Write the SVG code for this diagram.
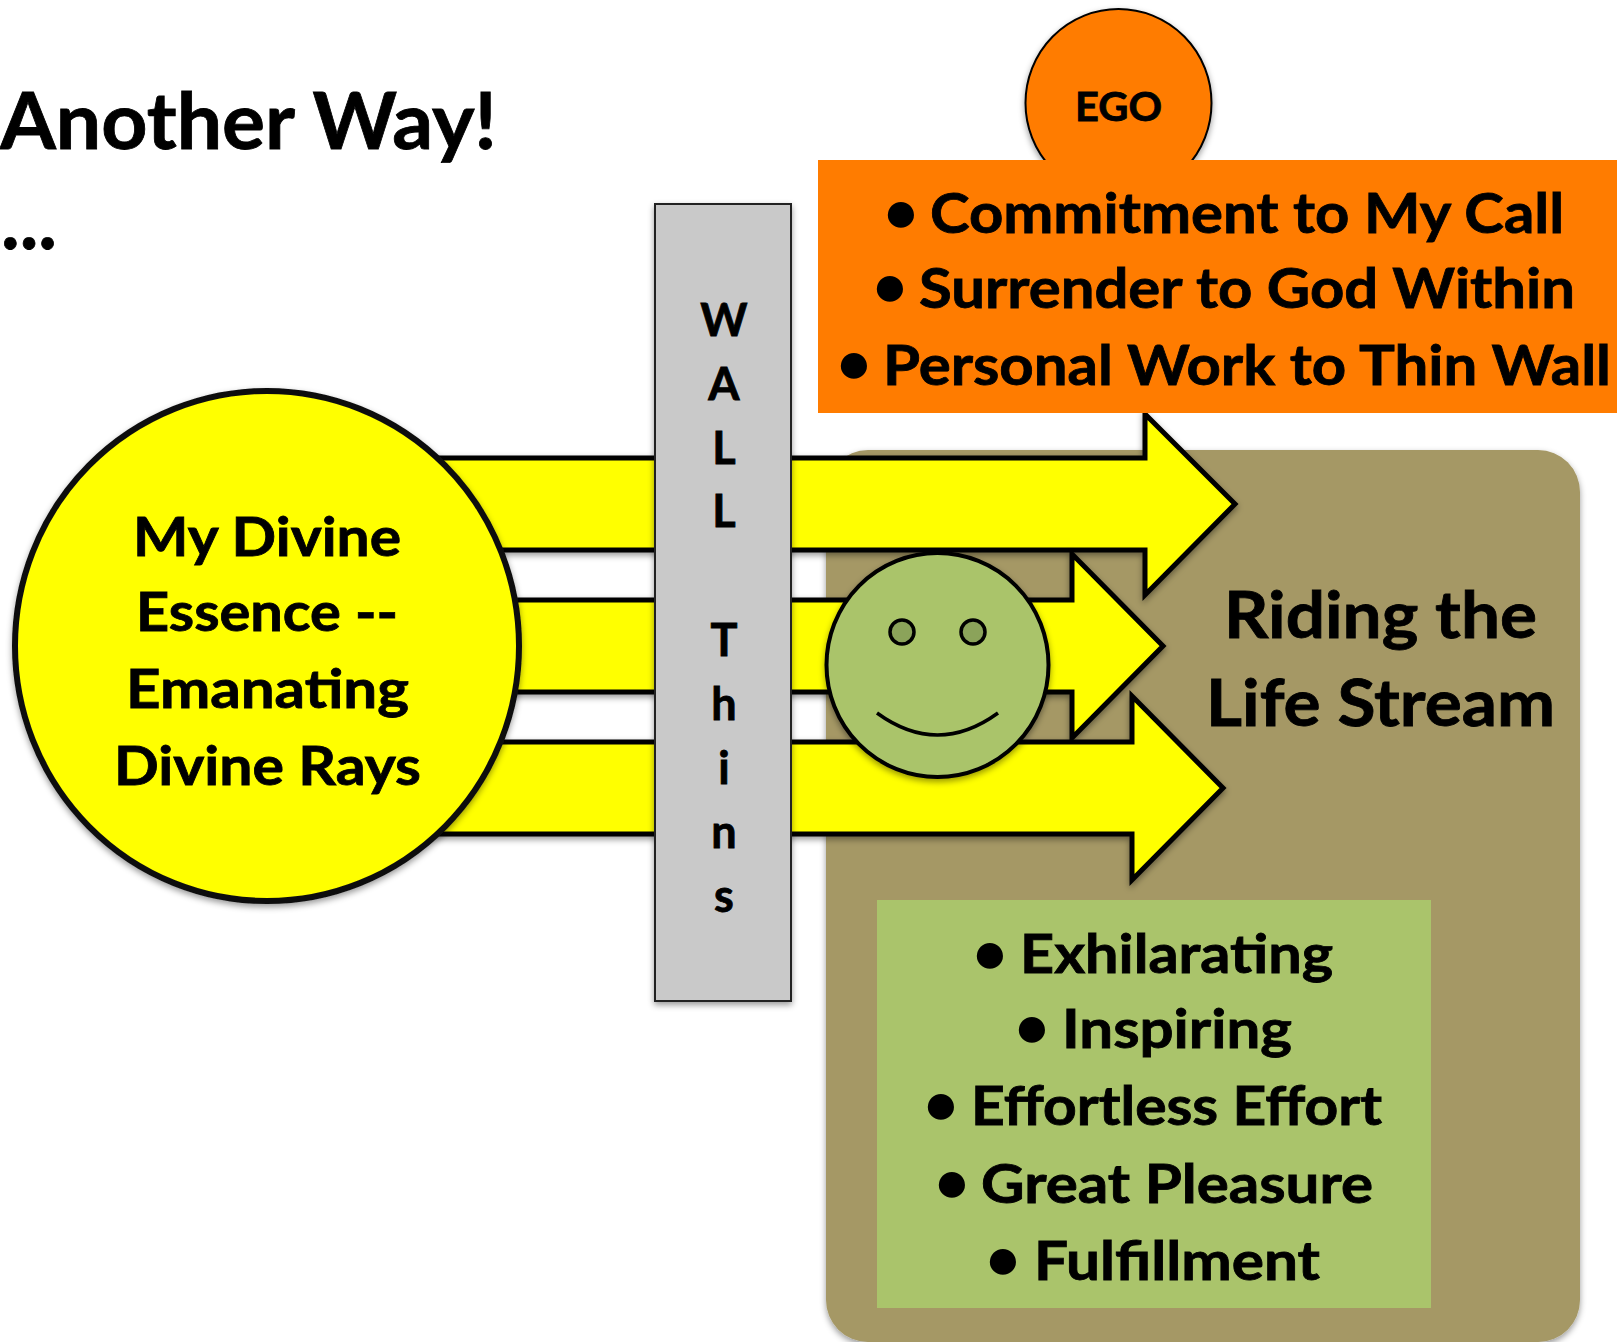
<svg xmlns="http://www.w3.org/2000/svg" width="1617" height="1342" viewBox="0 0 1617 1342">
<style>
text{font-family:"Lato","Carlito","Open Sans",sans-serif;font-weight:700;fill:#000;stroke:#000;stroke-width:.8px}
.b{text-anchor:middle;font-size:60px;stroke:none}
.ar{fill:#ffff00;stroke:#000;stroke-width:5;stroke-linejoin:miter;filter:url(#sh)}
.l1{font-size:56px}.l2{font-size:53px}.c{font-size:54px}.w{font-size:45px;text-anchor:middle}
</style>
<defs><filter id="sh" x="-10%" y="-10%" width="120%" height="125%"><feDropShadow dx="0" dy="3" stdDeviation="3" flood-color="#000" flood-opacity="0.4"/></filter></defs>
<rect width="1617" height="1342" fill="#fff"/>
<g id="title"><text x="0" y="149" font-size="78" textLength="497" lengthAdjust="spacingAndGlyphs">Another Way!</text>
<text x="1" y="249" font-size="80" textLength="56" lengthAdjust="spacingAndGlyphs">...</text></g>
<g id="life-stream"><rect x="826" y="450" width="754" height="892" rx="42" fill="#a59865" filter="url(#sh)"/>
<text x="1224" y="638" font-size="65" textLength="313" lengthAdjust="spacingAndGlyphs">Riding the</text>
<text x="1206" y="726" font-size="65" textLength="349" lengthAdjust="spacingAndGlyphs">Life Stream</text></g>
<g id="connectors">
<path class="ar" d="M400 458H1145V414L1235 504L1145 595V550H400Z"/>
<path class="ar" d="M400 600H1072V554L1163 646L1072 738V692H400Z"/>
<path class="ar" d="M400 742H1132V696L1223 788L1132 880V834H400Z"/>
</g>
<g id="divine-essence"><ellipse cx="267" cy="646" rx="252" ry="255" fill="#ffff00" stroke="#111" stroke-width="6" filter="url(#sh)"/>
<text class="c" x="133" y="556" textLength="268" lengthAdjust="spacingAndGlyphs">My Divine</text>
<text class="c" x="136" y="631" textLength="262" lengthAdjust="spacingAndGlyphs">Essence --</text>
<text class="c" x="126" y="708" textLength="283" lengthAdjust="spacingAndGlyphs">Emanating</text>
<text class="c" x="114" y="785" textLength="307" lengthAdjust="spacingAndGlyphs">Divine Rays</text></g>
<g id="wall"><rect x="655" y="204" width="136" height="797" fill="#c9c9c9" stroke="#222" stroke-width="2" filter="url(#sh)"/>
<text class="w" x="724" y="336">W</text><text class="w" x="724" y="400">A</text><text class="w" x="724" y="464">L</text><text class="w" x="724" y="527">L</text>
<text class="w" x="724" y="656">T</text><text class="w" x="724" y="720">h</text><text class="w" x="724" y="784">i</text><text class="w" x="724" y="848">n</text><text class="w" x="724" y="912">s</text></g>
<g id="smiley"><ellipse cx="937.5" cy="665" rx="111" ry="112" fill="#aac46b" stroke="#000" stroke-width="4" filter="url(#sh)"/>
<circle cx="902" cy="632" r="12" fill="#8ba35a" stroke="#000" stroke-width="3.5"/><circle cx="973" cy="632" r="12" fill="#8ba35a" stroke="#000" stroke-width="3.5"/>
<path d="M877 713Q937.5 757 998 713" fill="none" stroke="#000" stroke-width="3.5"/></g>
<g id="ego"><ellipse cx="1118.5" cy="103" rx="93" ry="94" fill="#ff7c00" stroke="#000" stroke-width="2" filter="url(#sh)"/>
<text x="1075" y="121" font-size="41" textLength="87" lengthAdjust="spacingAndGlyphs">EGO</text></g>
<g id="practices"><rect x="818" y="160" width="799" height="253" fill="#ff7c00"/>
<text class="b" x="901" y="233">•</text><text class="l1" x="930" y="233" textLength="634" lengthAdjust="spacingAndGlyphs">Commitment to My Call</text>
<text class="b" x="890" y="307">•</text><text class="l1" x="919" y="308" textLength="656" lengthAdjust="spacingAndGlyphs">Surrender to God Within</text>
<text class="b" x="854" y="384">•</text><text class="l1" x="883" y="385" textLength="728" lengthAdjust="spacingAndGlyphs">Personal Work to Thin Wall</text></g>
<g id="qualities"><rect x="877" y="900" width="554" height="408" fill="#aac46b"/>
<text class="b" x="990" y="974">•</text><text class="l2" x="1020" y="973" textLength="313" lengthAdjust="spacingAndGlyphs">Exhilarating</text>
<text class="b" x="1032" y="1048">•</text><text class="l2" x="1062" y="1048" textLength="230" lengthAdjust="spacingAndGlyphs">Inspiring</text>
<text class="b" x="941" y="1125">•</text><text class="l2" x="971" y="1125" textLength="411" lengthAdjust="spacingAndGlyphs">Effortless Effort</text>
<text class="b" x="952" y="1203">•</text><text class="l2" x="981" y="1203" textLength="392" lengthAdjust="spacingAndGlyphs">Great Pleasure</text>
<text class="b" x="1003" y="1280">•</text><text class="l2" x="1034" y="1280" textLength="286" lengthAdjust="spacingAndGlyphs">Fulfillment</text></g>
</svg>
